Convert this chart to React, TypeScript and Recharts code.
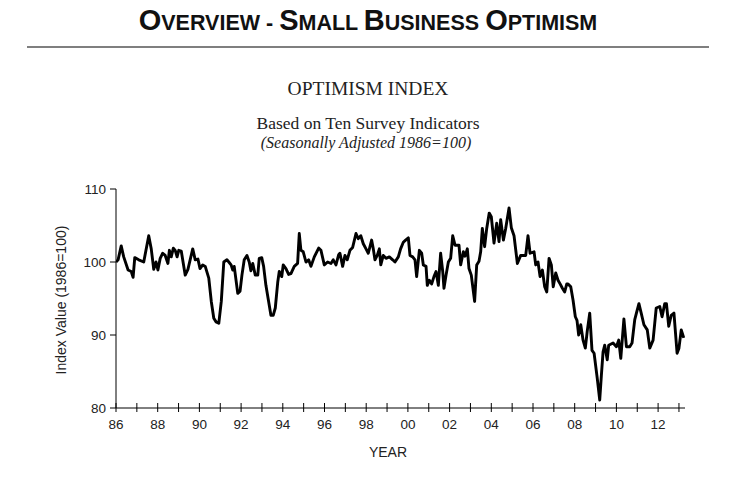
import React from 'react';
import { LineChart, Line, XAxis, YAxis } from 'recharts';

// Decimal year of each reading
const years: number[] = [
  1986.00, 1986.10, 1986.25, 1986.37, 1986.58, 1986.73, 1986.82, 1986.90, 1987.09, 1987.33,
  1987.57, 1987.69, 1987.81, 1987.92, 1988.01, 1988.12, 1988.24, 1988.36, 1988.49, 1988.56,
  1988.65, 1988.75, 1988.84, 1988.93, 1989.01, 1989.13, 1989.32, 1989.45, 1989.68, 1989.80,
  1989.93, 1990.03, 1990.16, 1990.28, 1990.45, 1990.57, 1990.69, 1990.80, 1990.93, 1991.05,
  1991.17, 1991.32, 1991.41, 1991.52, 1991.60, 1991.67, 1991.84, 1991.95, 1992.04, 1992.15,
  1992.28, 1992.39, 1992.47, 1992.56, 1992.68, 1992.80, 1992.87, 1992.99, 1993.08, 1993.19,
  1993.32, 1993.43, 1993.54, 1993.64, 1993.76, 1993.83, 1993.95, 1994.02, 1994.15, 1994.28,
  1994.39, 1994.55, 1994.71, 1994.79, 1994.87, 1994.98, 1995.11, 1995.24, 1995.35, 1995.51,
  1995.72, 1995.83, 1995.99, 1996.15, 1996.31, 1996.42, 1996.55, 1996.68, 1996.74, 1996.87,
  1996.98, 1997.09, 1997.22, 1997.35, 1997.51, 1997.62, 1997.74, 1997.86, 1997.99, 1998.10,
  1998.26, 1998.34, 1998.42, 1998.53, 1998.63, 1998.70, 1998.82, 1998.95, 1999.11, 1999.27,
  1999.38, 1999.54, 1999.65, 1999.78, 1999.89, 2000.02, 2000.10, 2000.23, 2000.34, 2000.42,
  2000.55, 2000.66, 2000.74, 2000.87, 2000.93, 2001.03, 2001.14, 2001.25, 2001.35, 2001.46,
  2001.57, 2001.67, 2001.73, 2001.83, 2001.94, 2002.05, 2002.15, 2002.26, 2002.34, 2002.45,
  2002.53, 2002.66, 2002.74, 2002.85, 2002.93, 2003.04, 2003.20, 2003.30, 2003.41, 2003.49,
  2003.57, 2003.68, 2003.78, 2003.90, 2004.00, 2004.13, 2004.26, 2004.37, 2004.45, 2004.58,
  2004.69, 2004.85, 2004.96, 2005.09, 2005.25, 2005.41, 2005.65, 2005.76, 2005.86, 2006.05,
  2006.13, 2006.24, 2006.34, 2006.45, 2006.56, 2006.66, 2006.77, 2006.88, 2006.97, 2007.09,
  2007.20, 2007.30, 2007.41, 2007.52, 2007.62, 2007.68, 2007.81, 2007.92, 2008.03, 2008.11,
  2008.19, 2008.29, 2008.40, 2008.51, 2008.60, 2008.72, 2008.83, 2008.93, 2009.08, 2009.20,
  2009.28, 2009.36, 2009.44, 2009.56, 2009.63, 2009.84, 2010.00, 2010.11, 2010.21, 2010.36,
  2010.48, 2010.64, 2010.75, 2010.88, 2010.96, 2011.08, 2011.19, 2011.32, 2011.48, 2011.60,
  2011.76, 2011.91, 2012.08, 2012.19, 2012.32, 2012.40, 2012.51, 2012.63, 2012.76, 2012.91,
  2013.00, 2013.11, 2013.23,
];

// Optimism index (1986=100)
const optimism: number[] = [
  100.0, 100.3, 102.2, 100.7, 98.9, 98.7, 97.9, 100.6, 100.3, 100.0,
  103.6, 101.8, 99.0, 100.0, 98.9, 100.5, 101.2, 100.9, 99.8, 101.6,
  100.7, 101.9, 101.6, 100.7, 101.6, 101.5, 98.2, 99.0, 101.8, 100.3,
  100.4, 99.1, 99.6, 99.4, 97.8, 94.6, 92.3, 91.8, 91.6, 94.6,
  100.0, 100.3, 100.0, 99.6, 98.9, 99.4, 95.7, 96.0, 98.2, 100.3,
  100.9, 100.0, 98.8, 99.8, 98.2, 98.2, 100.5, 100.6, 99.4, 96.8,
  94.6, 92.7, 92.7, 93.7, 97.3, 98.7, 98.0, 99.6, 99.1, 98.3,
  98.4, 99.4, 99.8, 103.9, 101.6, 101.4, 100.0, 100.3, 99.4, 100.7,
  101.9, 101.6, 99.6, 100.0, 99.8, 100.3, 99.6, 101.0, 101.2, 99.4,
  100.9, 100.3, 101.6, 102.0, 103.9, 103.2, 103.6, 102.5, 101.8, 101.2,
  103.0, 101.8, 100.3, 100.9, 101.8, 99.6, 100.9, 100.5, 100.7, 100.3,
  100.0, 100.7, 101.8, 102.7, 103.0, 103.3, 100.9, 100.7, 100.3, 98.0,
  101.6, 101.2, 99.6, 99.4, 96.8, 97.5, 97.0, 98.0, 98.7, 96.8,
  101.2, 98.7, 96.4, 98.2, 100.0, 100.5, 103.6, 102.3, 102.3, 102.3,
  99.6, 101.4, 100.8, 101.8, 99.1, 98.2, 94.6, 99.6, 100.1, 101.4,
  104.6, 102.1, 104.6, 106.7, 106.2, 102.6, 105.3, 102.8, 105.8, 103.0,
  104.6, 107.4, 104.7, 103.6, 99.8, 100.9, 100.9, 103.6, 101.2, 101.4,
  99.6, 100.0, 98.0, 98.9, 96.6, 95.9, 100.5, 99.6, 96.6, 98.5,
  97.5, 97.0, 96.4, 95.9, 97.0, 97.0, 96.6, 94.8, 92.5, 92.0,
  90.0, 91.4, 89.3, 88.2, 90.5, 93.0, 87.9, 87.5, 84.1, 81.1,
  84.5, 87.7, 88.6, 86.6, 88.6, 88.9, 88.4, 89.3, 86.8, 92.2,
  88.4, 88.4, 88.9, 92.1, 93.0, 94.3, 93.0, 91.4, 90.7, 88.2,
  89.3, 93.7, 93.9, 92.5, 94.3, 94.3, 91.2, 92.7, 93.0, 87.5,
  88.2, 90.7, 89.6,
];

const yearTicks: number[] = [
  1986, 1987, 1988, 1989, 1990, 1991, 1992, 1993, 1994, 1995, 1996, 1997, 1998, 1999,
  2000, 2001, 2002, 2003, 2004, 2005, 2006, 2007, 2008, 2009, 2010, 2011, 2012, 2013,
];
const yearLabels: string[] = [
  '86', '', '88', '', '90', '', '92', '', '94', '', '96', '', '98', '',
  '00', '', '02', '', '04', '', '06', '', '08', '', '10', '', '12', '',
];
const valueTicks: number[] = [80, 90, 100, 110];

const data = years.map((t, i) => ({ t, v: optimism[i] }));

const AXIS_FONT = '"Liberation Sans", Arial, sans-serif';
const TICK_SIZE = 5;
const TICK_MARGIN = 2;

const XTick = (props: any) => {
  const { x, y, payload } = props;
  const axisY = y - TICK_SIZE - TICK_MARGIN;
  const idx = yearTicks.indexOf(payload.value);
  const label = idx >= 0 ? yearLabels[idx] : '';
  return (
    <g>
      <line x1={x} x2={x} y1={axisY - 5} y2={axisY + 4} stroke="#000" strokeWidth={1} />
      {label !== '' && (
        <text x={x} y={axisY + 21} textAnchor="middle" fontFamily={AXIS_FONT} fontSize={13.5} fill="#222">
          {label}
        </text>
      )}
    </g>
  );
};

export default function App() {
  const big = 29;
  return (
    <div style={{ position: 'absolute', left: 0, top: 0, width: 736, height: 477, background: '#fff' }}>
      <LineChart
        width={736}
        height={477}
        data={data}
        margin={{ top: 189, right: 51, left: 0, bottom: 39 }}
      >
        <XAxis
          dataKey="t"
          type="number"
          domain={[1986, 2013.29]}
          ticks={yearTicks}
          interval={0}
          tickSize={TICK_SIZE}
          tickMargin={TICK_MARGIN}
          tickLine={false}
          tick={<XTick />}
          height={30}
          axisLine={{ stroke: '#000', strokeWidth: 1 }}
          allowDataOverflow
        />
        <YAxis
          type="number"
          domain={[80, 110]}
          ticks={valueTicks}
          interval={0}
          width={116}
          tickSize={6}
          tickMargin={4}
          tickLine={{ stroke: '#000', strokeWidth: 1 }}
          axisLine={{ stroke: '#000', strokeWidth: 1 }}
          tick={{ fontFamily: AXIS_FONT, fontSize: 13.5, fill: '#222' }}
        />
        <Line
          dataKey="v"
          type="linear"
          stroke="#000"
          strokeWidth={2.9}
          dot={false}
          isAnimationActive={false}
          strokeLinejoin="round"
        />
      </LineChart>
      <svg
        width={736}
        height={477}
        style={{ position: 'absolute', left: 0, top: 0, pointerEvents: 'none' }}
      >
        <text
          x={368}
          y={30}
          textAnchor="middle"
          fontFamily={AXIS_FONT}
          fontWeight="bold"
          fontSize={21.5}
          fill="#111"
        >
          <tspan fontSize={big}>O</tspan>VERVIEW - <tspan fontSize={big}>S</tspan>MALL{' '}
          <tspan fontSize={big}>B</tspan>USINESS <tspan fontSize={big}>O</tspan>PTIMISM
        </text>
        <line x1={27} x2={709} y1={47} y2={47} stroke="#555" strokeWidth={1.5} />
        <text x={368} y={95} textAnchor="middle" fontFamily='"Liberation Serif", "Times New Roman", serif' fontSize={19.5} fill="#222">
          OPTIMISM INDEX
        </text>
        <text x={368} y={129} textAnchor="middle" fontFamily='"Liberation Serif", "Times New Roman", serif' fontSize={17.5} fill="#222">
          Based on Ten Survey Indicators
        </text>
        <text x={366} y={148} textAnchor="middle" fontFamily='"Liberation Serif", "Times New Roman", serif' fontStyle="italic" fontSize={16} fill="#222">
          (Seasonally Adjusted 1986=100)
        </text>
        <text x={388} y={457} textAnchor="middle" fontFamily={AXIS_FONT} fontSize={14} fill="#222">
          YEAR
        </text>
        <text
          x={66}
          y={300}
          textAnchor="middle"
          transform="rotate(-90, 66, 300)"
          fontFamily={AXIS_FONT}
          fontSize={14}
          fill="#222"
        >
          Index Value (1986=100)
        </text>
      </svg>
    </div>
  );
}
